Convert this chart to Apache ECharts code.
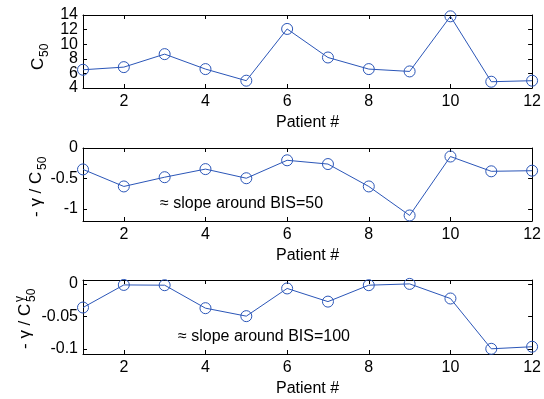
<!DOCTYPE html>
<html>
<head>
<meta charset="utf-8">
<script src="https://cdn.jsdelivr.net/npm/echarts@6/dist/echarts.min.js"></script>
</head>
<body style="margin:0">
<div id="main" style="width:544px;height:399px;"></div>
<script type="text/javascript">
    // values
    var patients = [1, 2, 3, 4, 5, 6, 7, 8, 9, 10, 11, 12];
    var c50 = [6.5, 6.86, 8.64, 6.59, 5.0, 12.09, 8.18, 6.59, 6.27, 13.82, 4.86, 5.0];
    var slope50 = [-0.352, -0.632, -0.48, -0.347, -0.497, -0.202, -0.264, -0.632, -1.109, -0.14, -0.383, -0.373];
    var slope100 = [-0.0364, -0.0016, -0.002, -0.0374, -0.0497, -0.007, -0.0273, -0.002, 0, -0.0225, -0.1, -0.0968];
    var xTicks = [2, 4, 6, 8, 10, 12];
    var yTicks1 = [4, 6, 8, 10, 12, 14];
    var yTicks2 = [-1, -0.5, 0];
    var yTicks3 = [-0.1, -0.05, 0];

    var font = 'Liberation Sans, Arial, sans-serif';
    var blue = '#2b56b8';
    var grids = [
        {left: 83, right: 10, top: 15, height: 73},
        {left: 83, right: 10, top: 148, height: 73},
        {left: 83, right: 10, top: 280, height: 74}
    ];
    var yLims = [[4, 14], [-1.2, 0], [-0.108, 0.006]];
    var yTicks = [yTicks1, yTicks2, yTicks3];
    var seriesData = [c50, slope50, slope100];

    function pairs(ys) {
        return patients.map(function (p, i) { return [p, ys[i]]; });
    }

    var line = {show: true, onZero: false, lineStyle: {color: '#000', width: 1}};
    var labelStyle = {fontFamily: font, fontSize: 16, color: '#000'};
    var xAxis = [], yAxis = [], series = [];
    grids.forEach(function (g, i) {
        var t = yTicks[i];
        // labels right next to the end labels get dropped by echarts when they touch,
        // so those go on a second, label-only axis
        var crowded = t.length > 4;
        var mainLabels = crowded ? t.filter(function (v, k) { return k !== 1 && k !== t.length - 2; }) : t;
        xAxis.push({
            type: 'value', gridIndex: i, min: 1, max: 12, position: 'bottom',
            name: 'Patient #', nameLocation: 'middle', nameGap: 27,
            nameTextStyle: labelStyle,
            axisLine: line,
            axisTick: {show: true, inside: true, length: 4, customValues: xTicks, lineStyle: {color: '#000'}},
            axisLabel: Object.assign({show: true, customValues: xTicks, margin: 6}, labelStyle),
            splitLine: {show: false}
        });
        // top axis, ticks only (box)
        xAxis.push({
            type: 'value', gridIndex: i, min: 1, max: 12, position: 'top',
            axisLine: line,
            axisTick: {show: true, inside: true, length: 4, customValues: xTicks, lineStyle: {color: '#000'}},
            axisLabel: {show: false},
            splitLine: {show: false}
        });
        yAxis.push({
            type: 'value', gridIndex: i, min: yLims[i][0], max: yLims[i][1], position: 'left',
            axisLine: line,
            axisTick: {show: true, inside: true, length: 4, customValues: t, lineStyle: {color: '#000'}},
            axisLabel: Object.assign({show: true, customValues: mainLabels, margin: 5,
                showMinLabel: true, showMaxLabel: true}, labelStyle),
            splitLine: {show: false}
        });
        yAxis.push({
            type: 'value', gridIndex: i, min: yLims[i][0], max: yLims[i][1], position: 'right',
            axisLine: line,
            axisTick: {show: true, inside: true, length: 4, customValues: t, lineStyle: {color: '#000'}},
            axisLabel: {show: false},
            splitLine: {show: false}
        });
        if (crowded) {
            yAxis.push({
                type: 'value', gridIndex: i, min: yLims[i][0], max: yLims[i][1], position: 'left',
                axisLine: {show: false}, axisTick: {show: false},
                axisLabel: Object.assign({show: true, customValues: [t[1], t[t.length - 2]], margin: 5}, labelStyle),
                splitLine: {show: false}
            });
        }
        series.push({
            type: 'line',
            xAxisIndex: i * 2,
            yAxisIndex: yAxis.length - (crowded ? 3 : 2),
            data: pairs(seriesData[i]),
            symbol: 'circle',
            symbolSize: 11,
            showAllSymbol: true,
            lineStyle: {color: blue, width: 1},
            itemStyle: {color: 'rgba(0,0,0,0)', borderColor: blue, borderWidth: 1},
            emphasis: {disabled: true},
            animation: false
        });
    });

    var subFont = {fontFamily: font, fontSize: 12, fill: '#000'};
    var mainFont = {fontFamily: font, fontSize: 17, fill: '#000'};

    var option = {
        backgroundColor: '#fff',
        animation: false,
        grid: grids,
        xAxis: xAxis,
        yAxis: yAxis,
        series: series,
        graphic: [
            {
                type: 'text', left: 160, top: 196,
                style: {text: '\u2248 slope around BIS=50', fontFamily: font, fontSize: 16, fill: '#000'}
            },
            {
                type: 'text', left: 178, top: 329,
                style: {text: '\u2248 slope around BIS=100', fontFamily: font, fontSize: 16, fill: '#000'}
            },
            {
                type: 'group', x: 47, y: 70, rotation: Math.PI / 2,
                children: [
                    {type: 'text', x: 0, y: 0, style: Object.assign({text: 'C', textVerticalAlign: 'bottom'}, mainFont)},
                    {type: 'text', x: 13, y: 4, style: Object.assign({text: '50', textVerticalAlign: 'bottom'}, subFont)}
                ]
            },
            {
                type: 'group', x: 45, y: 217, rotation: Math.PI / 2,
                children: [
                    {type: 'text', x: 0, y: 0, style: Object.assign({text: '- \u03b3 / C', textVerticalAlign: 'bottom'}, mainFont)},
                    {type: 'text', x: 47, y: 4, style: Object.assign({text: '50', textVerticalAlign: 'bottom'}, subFont)}
                ]
            },
            {
                type: 'group', x: 34, y: 349, rotation: Math.PI / 2,
                children: [
                    {type: 'text', x: 0, y: 0, style: Object.assign({text: '- \u03b3 / C', textVerticalAlign: 'bottom'}, mainFont)},
                    {type: 'text', x: 47, y: -8, style: Object.assign({text: '\u03b3', textVerticalAlign: 'bottom'}, subFont)},
                    {type: 'text', x: 47, y: 4, style: Object.assign({text: '50', textVerticalAlign: 'bottom'}, subFont)}
                ]
            }
        ]
    };

    var myChart = echarts.init(document.getElementById('main'));
    myChart.setOption(option);
</script>
</body>
</html>
